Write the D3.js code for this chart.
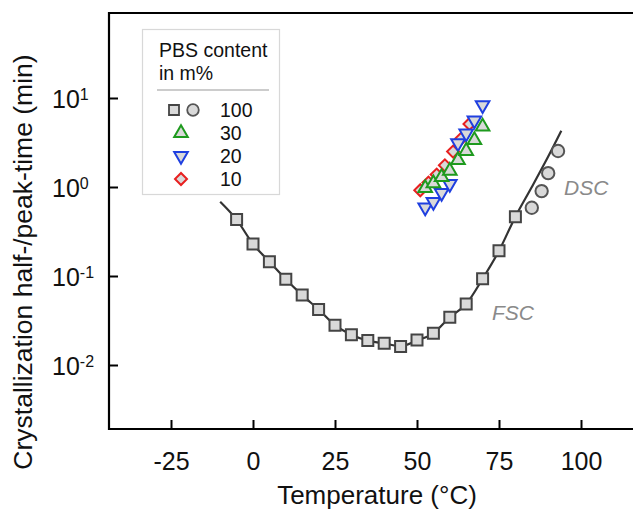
<!DOCTYPE html>
<meta charset="utf-8">
<style>
  body { margin: 0; background: #fff; }
  text { font-family: "Liberation Sans", Arial, sans-serif; fill: #111; }
  .tick line { stroke: #000; stroke-width: 2px; }
  .tick text { font-size: 25px; }
</style>
<body>
<svg width="633" height="511"></svg>
<script src="https://d3js.org/d3.v7.min.js"></script>
<script>

// FSC (100 m% PBS), squares
var fscT    = [-5, 0, 5, 10, 15, 20, 25, 30, 35, 40, 45, 50, 55, 60, 65, 70, 75, 80];
var fscTime = [0.43, 0.229, 0.145, 0.092, 0.061, 0.042, 0.028, 0.0219, 0.0188, 0.0175,
               0.0161, 0.0191, 0.0227, 0.0344, 0.0485, 0.093, 0.192, 0.464];
// DSC (100 m% PBS), circles
var dscT    = [85, 88, 90, 93];
var dscTime = [0.585, 0.90, 1.43, 2.54];
// fit curve through both
var fitT    = [-10, -5, 0, 5, 10, 15, 20, 25, 30, 35, 40, 45, 50, 55, 60, 65, 70, 75, 80, 85, 90, 94];
var fitTime = [0.684, 0.43, 0.229, 0.145, 0.092, 0.061, 0.042, 0.028, 0.0219, 0.0188, 0.0175,
               0.0163, 0.0189, 0.0227, 0.0344, 0.0485, 0.093, 0.192, 0.464, 1.0, 2.2, 4.29];
// blends
var pbs30T    = [52.5, 55, 57.5, 60, 62.5, 65, 67.5, 70];
var pbs30Time = [0.97, 1.10, 1.29, 1.52, 2.01, 2.54, 3.37, 4.76];
var pbs20T    = [52.5, 55, 57.5, 60, 62.5, 65, 67.5, 70];
var pbs20Time = [0.59, 0.68, 0.86, 1.08, 3.1, 4.0, 5.6, 8.3];
var pbs10T    = [51, 53.5, 56, 58.5, 61, 63.5, 66];
var pbs10Time = [0.92, 1.12, 1.38, 1.75, 2.5, 3.5, 5.1];

var xTicks = [-25, 0, 25, 50, 75, 100];
var yTicks = [0.01, 0.1, 1, 10];
var legendLabels = ["100", "30", "20", "10"];

const svg = d3.select('svg');
const mLeft = 109, mTop = 13, mBottom = 429, mRight = 700;

const x = d3.scaleLinear().domain([-25, 100]).range([171, 581]);
const y = d3.scaleLog().domain([0.01, 10]).range([365, 98]);

const fill = "#d9d9d9";

// frame
svg.append("path")
  .attr("d", `M${mRight},${mTop}H${mLeft}V${mBottom}H${mRight}`)
  .attr("fill", "none")
  .attr("stroke", "#000")
  .attr("stroke-width", 2.2);

// x axis
const gx = svg.append("g")
  .attr("transform", `translate(0,${mBottom})`)
  .call(d3.axisBottom(x).tickValues(xTicks).tickSize(-9).tickPadding(23).tickFormat(d => String(d)));
gx.select(".domain").remove();

// y axis
const gy = svg.append("g")
  .attr("transform", `translate(${mLeft},0)`)
  .call(d3.axisLeft(y).tickValues(yTicks).tickSize(-9).tickFormat(""));
gy.select(".domain").remove();
gy.selectAll(".tick").each(function(d) {
  var t = d3.select(this).append("text")
    .attr("x", 52 - mLeft)
    .attr("dy", "0.36em")
    .attr("text-anchor", "start")
    .attr("fill", "#111");
  t.append("tspan").text("10");
  t.append("tspan")
    .attr("dy", "-0.5em")
    .style("font-size", "16px")
    .text(Math.round(Math.log10(d)));
});

// axis titles
svg.append("text")
  .attr("x", 377).attr("y", 504)
  .attr("text-anchor", "middle")
  .style("font-size", "26px")
  .text("Temperature (°C)");

svg.append("text")
  .attr("transform", "translate(32,262) rotate(-90)")
  .attr("text-anchor", "middle")
  .style("font-size", "26.5px")
  .text("Crystallization half-/peak-time (min)");

// fit line
const line = d3.line()
  .x((d, i) => x(fitT[i]))
  .y(d => y(d))
  .curve(d3.curveMonotoneX);

svg.append("path")
  .datum(fitTime)
  .attr("d", line)
  .attr("fill", "none")
  .attr("stroke", "#333")
  .attr("stroke-width", 2.2);

// markers
function sym(type, size) { return d3.symbol().type(type).size(size)(); }

svg.append("g").selectAll("path")
  .data(fscTime)
  .enter().append("path")
  .attr("d", sym(d3.symbolSquare, 121))
  .attr("transform", (d, i) => `translate(${x(fscT[i])},${y(d)})`)
  .attr("fill", fill).attr("stroke", "#444").attr("stroke-width", 2);

svg.append("g").selectAll("path")
  .data(dscTime)
  .enter().append("path")
  .attr("d", sym(d3.symbolCircle, 120))
  .attr("transform", (d, i) => `translate(${x(dscT[i])},${y(d)})`)
  .attr("fill", fill).attr("stroke", "#555").attr("stroke-width", 2);

function series(T, V, color, type, size, rot) {
  svg.append("g").selectAll("path")
    .data(V)
    .enter().append("path")
    .attr("d", sym(type, size))
    .attr("transform", (d, i) => `translate(${x(T[i])},${y(d)}) rotate(${rot})`)
    .attr("fill", fill).attr("stroke", color).attr("stroke-width", 2);
}
series(pbs10T, pbs10Time, "#e82020", d3.symbolSquare, 72, 45);
series(pbs20T, pbs20Time, "#1f3fe0", d3.symbolTriangle, 80, 180);
series(pbs30T, pbs30Time, "#1e9a1e", d3.symbolTriangle, 80, 0);

// method labels
svg.append("text")
  .attr("x", 564).attr("y", 195)
  .style("font-size", "21px").style("font-style", "italic")
  .style("fill", "#8a8a8a")
  .text("DSC");
svg.append("text")
  .attr("x", 492).attr("y", 320)
  .style("font-size", "21px").style("font-style", "italic")
  .style("fill", "#8a8a8a")
  .text("FSC");

// legend
const lg = svg.append("g");
lg.append("rect")
  .attr("x", 142.5).attr("y", 29.5).attr("width", 137).attr("height", 165)
  .attr("fill", "#fff").attr("stroke", "#d8d8d8").attr("stroke-width", 1.2);
lg.append("text").attr("x", 159).attr("y", 57).style("font-size", "19.5px").text("PBS content");
lg.append("text").attr("x", 159).attr("y", 80).style("font-size", "19.5px").text("in m%");
lg.append("line")
  .attr("x1", 157).attr("x2", 269).attr("y1", 90).attr("y2", 90)
  .attr("stroke", "#bbb").attr("stroke-width", 1.5);

const rowY = d3.scaleLinear().domain([0, 3]).range([110, 179]);
lg.selectAll("text.lab")
  .data(legendLabels)
  .enter().append("text")
  .attr("class", "lab")
  .attr("x", 220).attr("y", (d, i) => rowY(i) + 7)
  .style("font-size", "19.5px")
  .text(d => d);

lg.append("path").attr("d", sym(d3.symbolSquare, 100))
  .attr("transform", `translate(174,${rowY(0)})`)
  .attr("fill", fill).attr("stroke", "#444").attr("stroke-width", 1.8);
lg.append("path").attr("d", sym(d3.symbolCircle, 105))
  .attr("transform", `translate(193,${rowY(0)})`)
  .attr("fill", fill).attr("stroke", "#555").attr("stroke-width", 1.8);
lg.append("path").attr("d", sym(d3.symbolTriangle, 80))
  .attr("transform", `translate(181,${rowY(1)})`)
  .attr("fill", fill).attr("stroke", "#1e9a1e").attr("stroke-width", 2);
lg.append("path").attr("d", sym(d3.symbolTriangle, 80))
  .attr("transform", `translate(181,${rowY(2)}) rotate(180)`)
  .attr("fill", fill).attr("stroke", "#1f3fe0").attr("stroke-width", 2);
lg.append("path").attr("d", sym(d3.symbolSquare, 72))
  .attr("transform", `translate(181,${rowY(3)}) rotate(45)`)
  .attr("fill", fill).attr("stroke", "#e82020").attr("stroke-width", 2);

</script>
</body>
